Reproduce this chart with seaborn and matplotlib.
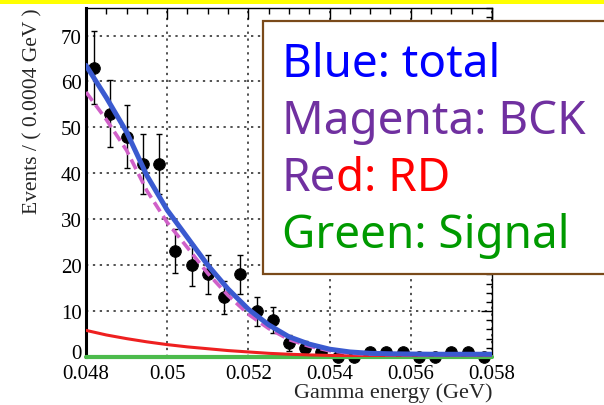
import numpy as np
import pandas as pd
import matplotlib
matplotlib.use("Agg")
import matplotlib.pyplot as plt
import seaborn as sns
from matplotlib.patches import Rectangle
from matplotlib.transforms import ScaledTranslation
from matplotlib.ticker import MultipleLocator, FixedLocator, FixedFormatter

# Binned photon-energy data (bin width 0.0004 GeV)
bin_centers = [0.0482, 0.0486, 0.0490, 0.0494, 0.0498, 0.0502, 0.0506, 0.0510,
               0.0514, 0.0518, 0.0522, 0.0526, 0.0530, 0.0534, 0.0538, 0.0542,
               0.0546, 0.0550, 0.0554, 0.0558, 0.0562, 0.0566, 0.0570, 0.0574,
               0.0578]
counts = [63, 53, 48, 42, 42, 23, 20, 18, 13, 18, 10, 8, 3, 2, 1, 0, 0,
          1, 1, 1, 0, 0, 1, 1, 0]

# Fit components sampled along the energy axis
energy_grid = [0.0480, 0.0485, 0.0490, 0.0495, 0.0500, 0.0505, 0.0510, 0.0515,
               0.0520, 0.0525, 0.0530, 0.0535, 0.0540, 0.0545, 0.0550, 0.0555,
               0.0560, 0.0565, 0.0570, 0.0575, 0.0580]
total_fit = [63.5, 56.5, 49.0, 39.5, 32.0, 26.0, 20.0, 14.8, 10.4, 7.0, 4.4,
             2.8, 1.7, 1.1, 0.8, 0.7, 0.65, 0.6, 0.6, 0.6, 0.6]
bck_fit = [57.7, 51.7, 45.0, 36.2, 29.3, 23.8, 18.2, 13.4, 9.3, 6.2, 3.8,
           2.35, 1.35, 0.85, 0.6, 0.55, 0.53, 0.5, 0.52, 0.54, 0.55]
rd_fit = [5.8, 4.8, 4.0, 3.3, 2.7, 2.2, 1.8, 1.4, 1.1, 0.8, 0.6, 0.45, 0.35,
          0.25, 0.2, 0.15, 0.12, 0.1, 0.08, 0.06, 0.05]
signal_fit = [0.0, 0.0, 0.0, 0.0, 0.0, 0.0, 0.0, 0.0, 0.0, 0.0, 0.0, 0.0, 0.0,
              0.0, 0.0, 0.0, 0.0, 0.0, 0.0, 0.0, 0.0]

x_ticks = [0.048, 0.050, 0.052, 0.054, 0.056, 0.058]
x_tick_labels = ["0.048", "0.05", "0.052", "0.054", "0.056", "0.058"]
y_ticks = [0, 10, 20, 30, 40, 50, 60, 70]

legend_lines = [
    [("Blue: total", "#0000ff")],
    [("Magenta: BCK", "#7030a0")],
    [("Re", "#7030a0"), ("d: RD", "#ff0000")],
    [("Green: Signal", "#009a00")],
]

sns.set_theme(style="white")
plt.rcParams["font.family"] = ["Liberation Serif", "DejaVu Serif"]

data = pd.DataFrame({"energy": bin_centers, "events": counts})
data["err"] = np.sqrt(data["events"])
fits = pd.DataFrame({"energy": energy_grid, "total": total_fit, "bck": bck_fit,
                     "rd": rd_fit, "signal": signal_fit})

fig = plt.figure(figsize=(6.04, 4.06), dpi=100)
fig.patch.set_facecolor("white")
ax = fig.add_axes([86 / 604, 1 - 358 / 406, 406 / 604, 349 / 406])
ax.set_facecolor("white")

# data points with statistical errors
ax.errorbar(data["energy"], data["events"], yerr=data["err"], fmt="none",
            ecolor="black", elinewidth=1.0, capsize=2.5, capthick=1.0,
            zorder=2, clip_on=False)
sns.scatterplot(data=data, x="energy", y="events", ax=ax, color="black",
                s=70, marker="o", edgecolor="black", zorder=3, clip_on=False,
                legend=False)

# fit components
sns.lineplot(data=fits, x="energy", y="signal", ax=ax, color="#4cbb4c",
             linewidth=3.0, zorder=4, clip_on=False)
sns.lineplot(data=fits, x="energy", y="rd", ax=ax, color="#ee2020",
             linewidth=2.2, zorder=5)
sns.lineplot(data=fits, x="energy", y="bck", ax=ax, color="#d060c8",
             linewidth=2.6, zorder=6)
ax.lines[-1].set_dashes([3, 1.5])
sns.lineplot(data=fits, x="energy", y="total", ax=ax, color="#3a5ad0",
             linewidth=3.6, zorder=7)

ax.set_xlim(0.048, 0.058)
ax.set_ylim(0, 76)
ax.xaxis.set_major_locator(FixedLocator(x_ticks))
ax.xaxis.set_major_formatter(FixedFormatter(x_tick_labels))
ax.xaxis.set_minor_locator(MultipleLocator(0.0005))
ax.yaxis.set_major_locator(FixedLocator(y_ticks))
ax.yaxis.set_minor_locator(MultipleLocator(2))
ax.tick_params(which="both", direction="in", top=True, right=True,
               colors="black", labelsize=15, width=1.0)
ax.tick_params(which="major", length=8)
ax.tick_params(axis="x", which="major", pad=5)
ax.tick_params(axis="y", which="major", pad=3)
ax.tick_params(which="minor", length=4)
ax.set_xlabel("")
ax.set_ylabel("")

ax.grid(True, which="major", color="#222222", linestyle=(0, (1.5, 3)),
        linewidth=1.1)
for side, spine in ax.spines.items():
    spine.set_visible(True)
    spine.set_color("black")
    spine.set_linewidth(1.0)
ax.spines["left"].set_linewidth(2.2)

fig.text(493 / 604, 1 - 393 / 406, "Gamma energy (GeV)", ha="right",
         va="center", fontsize=16)
fig.text(33 / 604, 1 - 8 / 406, "Events / ( 0.0004 GeV )", rotation=90,
         ha="center", va="top", fontsize=15.5)

# title bar strip
fig.add_artist(Rectangle((0, 1 - 5 / 406), 1, 5 / 406, transform=fig.transFigure,
                         facecolor="#ffff00", edgecolor="none", zorder=10))

# colour key box
fig.add_artist(Rectangle((263 / 604, 1 - 275 / 406), 0.6, 253 / 406,
                         transform=fig.transFigure, facecolor="white",
                         edgecolor="#7a4a1a", linewidth=1.6, zorder=10,
                         clip_on=False))

fig.canvas.draw()
# lift the "0" label on the y axis a little above the x labels
for lab in ax.get_yticklabels():
    if lab.get_text() == "0":
        lab.set_transform(lab.get_transform()
                          + ScaledTranslation(0, 4 / 72, fig.dpi_scale_trans))

renderer = fig.canvas.get_renderer()
baselines = [77, 134, 191, 248]
for parts, base in zip(legend_lines, baselines):
    x0 = 282 / 604
    for text, color in parts:
        t = fig.text(x0, 1 - base / 406, text, color=color, fontsize=33,
                     family=["Noto Sans", "DejaVu Sans"], ha="left",
                     va="baseline", zorder=11)
        bb = t.get_window_extent(renderer=renderer)
        x0 = bb.x1 / fig.bbox.width

fig.savefig("out.png", dpi=100)
